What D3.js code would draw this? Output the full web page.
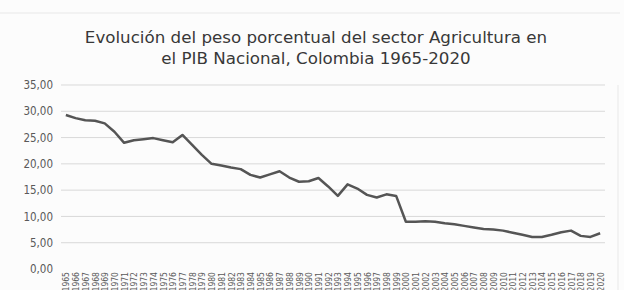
<!DOCTYPE html>
<html lang="es">
<head>
<meta charset="UTF-8">
<title>Peso Agricultura PIB</title>
<script src="https://cdn.jsdelivr.net/npm/d3@7"></script>
<style>
  html, body { margin: 0; padding: 0; background: #fcfcfc; }
  svg { display: block; }
</style>
</head>
<body>
<div id="chart"></div>
<script>
// años y peso porcentual (%)
const years = d3.range(1965, 2021).map(String);
const share = [
  29.3, 28.7, 28.3, 28.2, 27.7, 26.1, 24.0, 24.5, 24.7, 24.9,
  24.5, 24.1, 25.5, 23.6, 21.7, 20.0, 19.7, 19.3, 19.0, 17.9,
  17.4, 18.0, 18.6, 17.4, 16.6, 16.7, 17.3, 15.7, 13.9, 16.1,
  15.3, 14.1, 13.6, 14.2, 13.9, 9.0, 9.0, 9.1, 9.0, 8.7,
  8.5, 8.2, 7.9, 7.6, 7.5, 7.3, 6.9, 6.5, 6.1, 6.1,
  6.5, 7.0, 7.3, 6.3, 6.1, 6.8
];
const yTicks = [0, 5, 10, 15, 20, 25, 30, 35];
const titleLines = [
  "Evolución del peso porcentual del sector Agricultura en",
  "el PIB Nacional, Colombia 1965-2020"
];

const W = 624, H = 290;
const margin = { top: 85, right: 19, bottom: 21, left: 61 };
const width = W - margin.left - margin.right;
const height = H - margin.top - margin.bottom;

const svg = d3.select("#chart").append("svg")
  .attr("width", W)
  .attr("height", H);

// marco tenue del escaneo
svg.append("line")
  .attr("x1", 0).attr("x2", 620).attr("y1", 13).attr("y2", 13)
  .attr("stroke", "#e8e8e8");
svg.append("line")
  .attr("x1", 618).attr("x2", 618).attr("y1", 85).attr("y2", 290)
  .attr("stroke", "#e8e8e8");

svg.selectAll(".title")
  .data(titleLines)
  .enter().append("text")
  .attr("class", "title")
  .attr("x", 316)
  .attr("y", (d, i) => 43 + i * 21)
  .attr("text-anchor", "middle")
  .attr("font-family", "'DejaVu Sans', sans-serif")
  .attr("font-size", 16.7)
  .attr("fill", "#383838")
  .text(d => d);

const g = svg.append("g")
  .attr("transform", `translate(${margin.left},${margin.top})`);

const x = d3.scalePoint()
  .domain(years)
  .range([0, width])
  .padding(0.5);

const y = d3.scaleLinear()
  .domain([0, 35])
  .range([height, 0]);

// líneas de cuadrícula
g.append("g")
  .selectAll("line")
  .data(yTicks.filter(t => t > 0))
  .enter().append("line")
  .attr("x1", 0)
  .attr("x2", width)
  .attr("y1", d => y(d))
  .attr("y2", d => y(d))
  .attr("stroke", "#d9d9d9")
  .attr("stroke-width", 1);

// eje Y
const yAxis = g.append("g")
  .call(d3.axisLeft(y).tickValues(yTicks).tickSize(0).tickPadding(8)
    .tickFormat(d => d3.format(".2f")(d).replace(".", ",")));
yAxis.select(".domain").remove();
yAxis.selectAll("text")
  .attr("font-family", "'DejaVu Sans Condensed', 'DejaVu Sans', sans-serif")
  .attr("font-size", 11.5)
  .attr("fill", "#595959");

// eje X
const xAxis = g.append("g")
  .attr("transform", `translate(0,${height})`)
  .call(d3.axisBottom(x).tickSize(0).tickPadding(0));
xAxis.select(".domain").remove();
xAxis.selectAll("text")
  .attr("font-family", "'DejaVu Sans Condensed', 'DejaVu Sans', sans-serif")
  .attr("font-size", 8.5)
  .attr("fill", "#595959")
  .attr("text-anchor", "end")
  .attr("dy", null)
  .attr("transform", "translate(3,3) rotate(-90)");

// serie
const line = d3.line()
  .x((d, i) => x(years[i]))
  .y(d => y(d));

g.append("path")
  .datum(share)
  .attr("fill", "none")
  .attr("stroke", "#555555")
  .attr("stroke-width", 2.5)
  .attr("stroke-linejoin", "round")
  .attr("d", line);
</script>
</body>
</html>
